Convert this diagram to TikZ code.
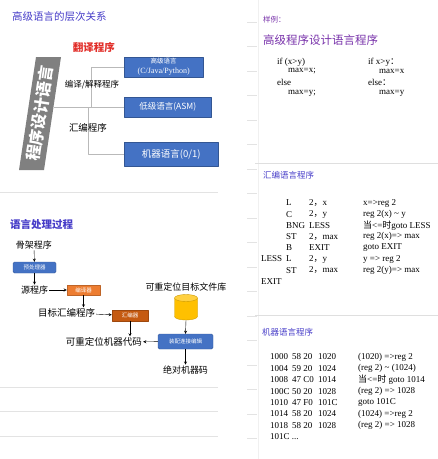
\documentclass[tikz,border=0pt]{standalone}
\usepackage{fontspec}
\setmainfont{Liberation Serif}
\newfontfamily\zh{Noto Sans CJK SC}
\usetikzlibrary{positioning}
\definecolor{titleblue}{RGB}{70,60,200}
\definecolor{slidepurple}{RGB}{120,50,170}
\definecolor{redtxt}{RGB}{225,45,40}
\definecolor{grayslab}{RGB}{128,128,128}
\definecolor{boxblue}{RGB}{68,114,196}
\definecolor{boxorange}{RGB}{237,125,49}
\definecolor{boxbrown}{RGB}{197,90,17}
\definecolor{dbgold}{RGB}{255,192,0}
\tikzset{
  lvlbox/.style={fill=boxblue, draw=boxblue!75!black, text=white, inner sep=0pt, anchor=west, align=center},
  procbox/.style={fill=#1, draw=#1!80!black, text=white, rounded corners=1.5pt, inner sep=0pt, font=\zh\fontsize{5.5}{6}\selectfont},
  treeline/.style={draw=gray!55, line width=.6pt},
  ghost/.style={draw=gray!22, line width=.8pt},
  lbl/.style={font=\zh\fontsize{9}{10}\selectfont, inner sep=1pt},
  code/.style={anchor=west, inner sep=0pt, font=\fontsize{9}{10}\selectfont},
}
\begin{document}
\begin{tikzpicture}[x=1pt, y=-1pt, >=stealth, line join=round]
\useasboundingbox (0,0) rectangle (438,459);
% ghost slides behind
\foreach \k in {0,...,17}
  \draw[ghost] (247,{22+24.5*\k}) -- (257,{22+24.5*\k});
\draw[ghost] (0,192) -- (218,192) (0,387) -- (218,387) (0,411) -- (218,411) (0,436) -- (218,436);
\draw[draw=gray!12] (258,0) -- (258,459);
\draw[draw=gray!25] (255,163) -- (438,163) (255,315) -- (438,315);

% ---- levels of languages
\node[anchor=west, text=titleblue, font=\zh\fontsize{10.5}{11}\selectfont, inner sep=0pt] (lvltitle) at (12,17) {高级语言的层次关系};
\node[text=redtxt, font=\zh\bfseries\fontsize{10.5}{11}\selectfont, inner sep=0pt] (transl) at (94,47) {翻译程序};
\fill[grayslab] (36,57) -- (61,57) -- (44,170) -- (19,170) -- cycle;
\node[rotate=81.4, text=white, font=\zh\bfseries\fontsize{16}{16}\selectfont, inner sep=0pt] (progl) at (40,113.5) {程序设计语言};
\node[lvlbox, minimum width=79pt, minimum height=20pt] (hll) at (124,67)
  {{\zh\fontsize{6.5}{7}\selectfont 高级语言}\\[-2pt]{\fontsize{8}{9}\selectfont (C/Java/Python)}};
\node[lvlbox, minimum width=87pt, minimum height=20pt, font=\zh\fontsize{8.5}{9}\selectfont] (lll) at (124,107) {低级语言(ASM)};
\node[lvlbox, minimum width=94pt, minimum height=24pt, font=\zh\fontsize{9.5}{10}\selectfont] (mll) at (124,154) {机器语言(0/1)};
\coordinate (slab) at (53.5,107);
\coordinate (jtop) at (91,107);
\coordinate (jlow) at (88,107);
\draw[treeline] (hll.west) -| (jtop);
\draw[treeline] (slab) -- (lll.west);
\draw[treeline] (jlow) |- (mll.west);
\node[lbl, font=\zh\fontsize{8.5}{9}\selectfont] (compint) at (92,85) {编译/解释程序};
\node[lbl, font=\zh\fontsize{9.5}{10}\selectfont] (asmprog) at (88,128) {汇编程序};

% ---- language processing
\node[anchor=west, text=titleblue, font=\zh\bfseries\fontsize{10.5}{11}\selectfont, inner sep=0pt] (proctitle) at (10,224) {语言处理过程};
\node[lbl] (skel) at (34,245) {骨架程序};
\node[procbox=boxblue, minimum width=43pt, minimum height=11pt] (prep) at (34.5,267.5) {预处理器};
\node[lbl] (src) at (34.5,290) {源程序};
\node[procbox=boxorange, minimum width=33pt, minimum height=10pt, rounded corners=0pt] (comp) at (83.5,290) {编译器};
\node[lbl, font=\zh\fontsize{9.5}{10}\selectfont] (asmsrc) at (66.5,313) {目标汇编程序};
\node[procbox=boxbrown, minimum width=36pt, minimum height=11pt, rounded corners=0pt] (asm) at (130,315.5) {汇编器};
\node[lbl, font=\zh\fontsize{9.5}{10}\selectfont] (reloc) at (104,342) {可重定位机器代码};
\node[procbox=boxblue, minimum width=55pt, minimum height=15pt] (link) at (185.5,341.5) {装配连接编辑};
\node[lbl] (libname) at (186,287) {可重定位目标文件库};
\node[minimum width=23pt, minimum height=26pt, inner sep=0pt] (lib) at (186,307) {};
\fill[dbgold, draw=dbgold!80!black, line width=.4pt] (174.5,298) -- (174.5,316.5) arc[start angle=180, end angle=360, x radius=11.5, y radius=-3.5] -- (197.5,298) -- cycle;
\fill[dbgold!75!white, draw=dbgold!80!black, line width=.4pt] (186,298) ellipse[x radius=11.5, y radius=3.5];
\node[lbl] (absmc) at (185.5,370) {绝对机器码};
\draw[->] (skel) -- (prep);
\draw[->] (prep) -- (src);
\draw[->] (src) -- (comp);
\draw[->] (comp.south) -- (comp.south |- asmsrc.north);
\draw[->] (asmsrc) -- (asm);
\draw[->] (asm.south) -- (asm.south |- reloc.north);
\draw[->] (link) -- (reloc);
\draw[->] (lib.south) -- (link.north);
\draw[->] (link) -- (absmc);

% ---- example slide
\node[anchor=west, text=slidepurple, font=\zh\fontsize{7.5}{8}\selectfont, inner sep=0pt] (sample) at (263,20) {样例：};
\node[anchor=west, text=slidepurple, font=\zh\fontsize{11.5}{12}\selectfont, inner sep=0pt] (hlltitle) at (263,40) {高级程序设计语言程序};
\node[code] (c1) at (277,62) {if (x>y)};
\node[code] (c2) at (288,71.5) {max=x;};
\node[code] (c3) at (277,82) {else};
\node[code] (c4) at (288,93) {max=y;};
\node[code] (d1) at (368,62) {if x>y{\zh ：}};
\node[code] (d2) at (379,71.5) {max=x};
\node[code] (d3) at (368,82) {else{\zh ：}};
\node[code] (d4) at (379,93) {max=y};

% ---- assembly slide
\node[anchor=west, text=titleblue, font=\zh\fontsize{8.5}{9}\selectfont, inner sep=0pt] (asmtitle) at (263,175) {汇编语言程序};
\foreach \lb/\op/\ar/\cm [count=\i] in {
  {}/L/2{\zh ，}x/x=>reg 2,
  {}/C/2{\zh ，}y/reg 2(x) \textasciitilde{} y,
  {}/BNG/LESS/{\zh 当}<={\zh 时}goto LESS,
  {}/ST/2{\zh ，}max/reg 2(x)=> max,
  {}/B/EXIT/goto EXIT,
  LESS/L/2{\zh ，}y/y => reg 2,
  {}/ST/2{\zh ，}max/reg 2(y)=> max}{
  \node[code] (al\i) at (261,{203+11.2*(\i-1)}) {\lb};
  \node[code] (ao\i) at (286,{203+11.2*(\i-1)}) {\op};
  \node[code] (aa\i) at (309,{203+11.2*(\i-1)}) {\ar};
  \node[code] (ac\i) at (363,{203+11.2*(\i-1)}) {\cm};
}
\node[code] (aexit) at (261,281.4) {EXIT};

% ---- machine slide
\node[anchor=west, text=titleblue, font=\zh\fontsize{8.5}{9}\selectfont, inner sep=0pt] (mctitle) at (262,332) {机器语言程序};
\foreach \ad/\hx/\tg/\cm [count=\i] in {
  1000/58 20/1020/(1020) =>reg 2,
  1004/59 20/1024/(reg 2) \textasciitilde{} (1024),
  1008/47 C0/1014/{\zh 当}<={\zh 时} goto 1014,
  100C/50 20/1028/(reg 2) => 1028,
  1010/47 F0/101C/goto 101C,
  1014/58 20/1024/(1024) =>reg 2,
  1018/58 20/1028/(reg 2) => 1028}{
  \node[code] (ma\i) at (270,{357+11.4*(\i-1)}) {\ad};
  \node[code] (mh\i) at (292,{357+11.4*(\i-1)}) {\hx};
  \node[code] (mt\i) at (318,{357+11.4*(\i-1)}) {\tg};
  \node[code] (mc\i) at (358,{357+11.4*(\i-1)}) {\cm};
}
\node[code] (mend) at (270,436.8) {101C ...};
\end{tikzpicture}
\end{document}
